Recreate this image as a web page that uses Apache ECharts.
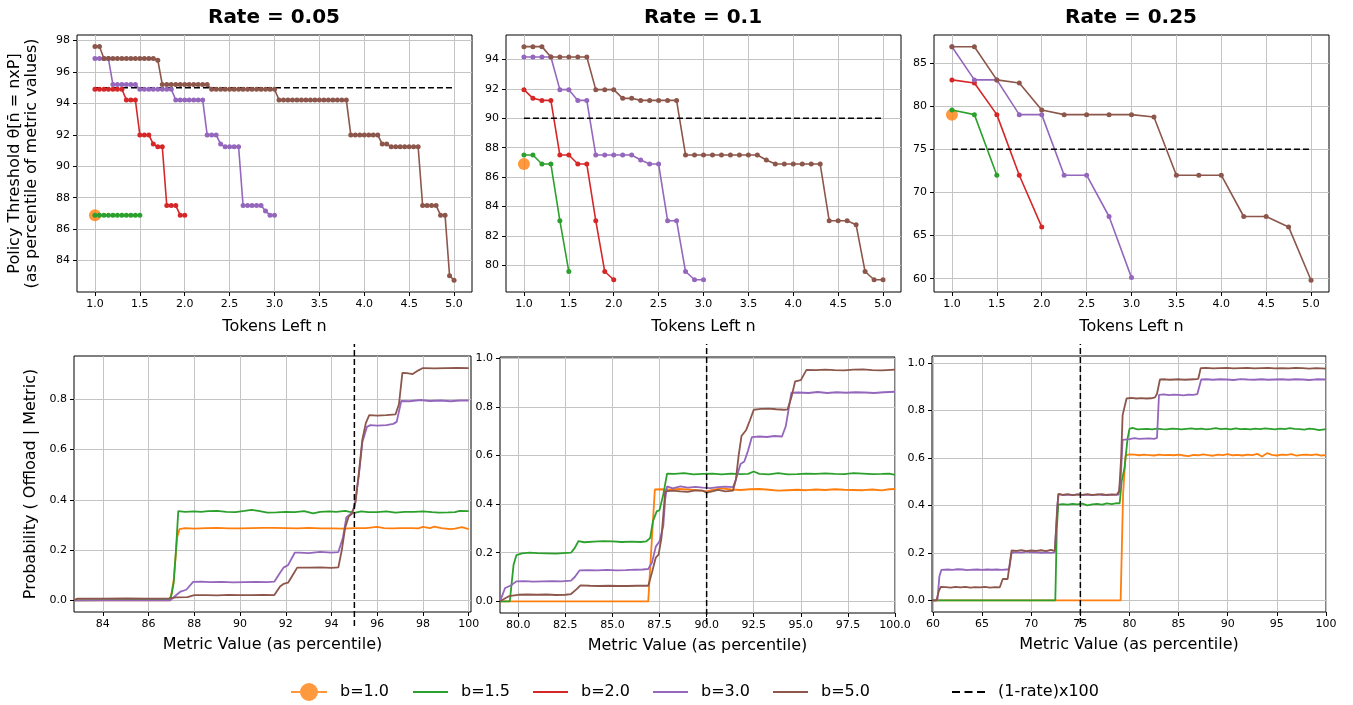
<!DOCTYPE html>
<html>

<head>
	<meta charset="UTF-8" />
	<title>Policy threshold and offload probability</title>
	<style>
		html, body { margin: 0; padding: 0; background: #fff; }
		#chart { width: 1353px; height: 705px; }
	</style>
	<script type="text/javascript" src="https://cdn.jsdelivr.net/npm/echarts@6/dist/echarts.min.js"></script>
</head>

<body>
	<div id="chart"></div>

	<script>
		// ---- data ----
		var rates = ["Rate = 0.05", "Rate = 0.1", "Rate = 0.25"];
		var thresholds = [95, 90, 75]; // (1-rate)x100

		var tokens005 = [
			1.0, 1.05, 1.1, 1.15, 1.2, 1.25, 1.3, 1.35, 1.4, 1.45,
			1.5, 1.55, 1.6, 1.65, 1.7, 1.75, 1.8, 1.85, 1.9, 1.95,
			2.0, 2.05, 2.1, 2.15, 2.2, 2.25, 2.3, 2.35, 2.4, 2.45,
			2.5, 2.55, 2.6, 2.65, 2.7, 2.75, 2.8, 2.85, 2.9, 2.95,
			3.0, 3.05, 3.1, 3.15, 3.2, 3.25, 3.3, 3.35, 3.4, 3.45,
			3.5, 3.55, 3.6, 3.65, 3.7, 3.75, 3.8, 3.85, 3.9, 3.95,
			4.0, 4.05, 4.1, 4.15, 4.2, 4.25, 4.3, 4.35, 4.4, 4.45,
			4.5, 4.55, 4.6, 4.65, 4.7, 4.75, 4.8, 4.85, 4.9, 4.95,
			5.0
		];
		var tokens01 = [
			1.0, 1.1, 1.2, 1.3, 1.4, 1.5, 1.6, 1.7, 1.8, 1.9,
			2.0, 2.1, 2.2, 2.3, 2.4, 2.5, 2.6, 2.7, 2.8, 2.9,
			3.0, 3.1, 3.2, 3.3, 3.4, 3.5, 3.6, 3.7, 3.8, 3.9,
			4.0, 4.1, 4.2, 4.3, 4.4, 4.5, 4.6, 4.7, 4.8, 4.9,
			5.0
		];
		var tokens025 = [1.0, 1.25, 1.5, 1.75, 2.0, 2.25, 2.5, 2.75, 3.0, 3.25, 3.5, 3.75, 4.0, 4.25, 4.5, 4.75, 5.0];

		// rate 0.05, threshold per token count
		var thr005_b10 = 86.89;
		var thr005_b15 = [86.89, 86.89, 86.89, 86.89, 86.89, 86.89, 86.89, 86.89, 86.89, 86.89, 86.89];
		var thr005_b20 = [
			94.9, 94.9, 94.9, 94.9, 94.9, 94.9, 94.9, 94.22, 94.22, 94.22,
			91.99, 91.99, 91.99, 91.41, 91.24, 91.24, 87.5, 87.5, 87.5, 86.89,
			86.89
		];
		var thr005_b30 = [
			96.85, 96.85, 96.85, 96.85, 95.2, 95.2, 95.2, 95.2, 95.2, 95.2,
			94.9, 94.9, 94.9, 94.9, 94.9, 94.9, 94.9, 94.9, 94.22, 94.22,
			94.22, 94.22, 94.22, 94.22, 94.22, 91.99, 91.99, 91.99, 91.41, 91.24,
			91.24, 91.24, 91.24, 87.5, 87.5, 87.5, 87.5, 87.5, 87.16, 86.89,
			86.89
		];
		var thr005_b50 = [
			97.62, 97.62, 96.85, 96.85, 96.85, 96.85, 96.85, 96.85, 96.85, 96.85,
			96.85, 96.85, 96.85, 96.85, 96.75, 95.2, 95.2, 95.2, 95.2, 95.2,
			95.2, 95.2, 95.2, 95.2, 95.2, 95.2, 94.9, 94.9, 94.9, 94.9,
			94.9, 94.9, 94.9, 94.9, 94.9, 94.9, 94.9, 94.9, 94.9, 94.9,
			94.9, 94.22, 94.22, 94.22, 94.22, 94.22, 94.22, 94.22, 94.22, 94.22,
			94.22, 94.22, 94.22, 94.22, 94.22, 94.22, 94.22, 91.99, 91.99, 91.99,
			91.99, 91.99, 91.99, 91.99, 91.41, 91.41, 91.24, 91.24, 91.24, 91.24,
			91.24, 91.24, 91.24, 87.5, 87.5, 87.5, 87.5, 86.89, 86.89, 83.04,
			82.75
		];

		// rate 0.1
		var thr01_b10 = 86.89;
		var thr01_b15 = [87.5, 87.5, 86.89, 86.89, 83.04, 79.59];
		var thr01_b20 = [91.94, 91.35, 91.21, 91.21, 87.5, 87.5, 86.89, 86.89, 83.04, 79.59, 79.03];
		var thr01_b30 = [
			94.16, 94.16, 94.16, 94.16, 91.94, 91.94, 91.21, 91.21, 87.5, 87.5,
			87.5, 87.5, 87.5, 87.16, 86.89, 86.89, 83.04, 83.04, 79.59, 79.03,
			79.03
		];
		var thr01_b50 = [
			94.86, 94.86, 94.86, 94.16, 94.16, 94.16, 94.16, 94.16, 91.94, 91.94,
			91.94, 91.35, 91.35, 91.21, 91.21, 91.21, 91.21, 91.21, 87.5, 87.5,
			87.5, 87.5, 87.5, 87.5, 87.5, 87.5, 87.5, 87.16, 86.89, 86.89,
			86.89, 86.89, 86.89, 86.89, 83.04, 83.04, 83.04, 82.76, 79.59, 79.03,
			79.03
		];

		// rate 0.25
		var thr025_b10 = 79.03;
		var thr025_b15 = [79.57, 79.03, 72.0];
		var thr025_b20 = [83.06, 82.71, 79.03, 72.0, 66.0];
		var thr025_b30 = [86.9, 83.06, 83.06, 79.03, 79.03, 72.0, 72.0, 67.21, 60.12];
		var thr025_b50 = [86.9, 86.9, 83.06, 82.71, 79.57, 79.03, 79.03, 79.03, 79.03, 78.76, 72.0, 72.0, 72.0, 67.21, 67.21, 66.0, 59.81];

		// probability of offload vs metric percentile, [metric, prob]
		var prob005_b10 = [[82.75, 0.0], [86.95, 0.0], [87.1, 0.08], [87.25, 0.25], [87.35, 0.283], [87.6, 0.287], [88.0, 0.285], [88.5, 0.287], [89.0, 0.288], [89.5, 0.286], [90.0, 0.286], [90.5, 0.287], [91.0, 0.288], [91.5, 0.288], [92.0, 0.287], [92.5, 0.286], [93.0, 0.288], [93.5, 0.286], [94.0, 0.286], [94.5, 0.285], [95.0, 0.287], [95.5, 0.287], [96.0, 0.292], [96.3, 0.287], [96.7, 0.286], [97.0, 0.287], [97.5, 0.287], [97.8, 0.286], [98.0, 0.292], [98.3, 0.287], [98.5, 0.293], [98.8, 0.287], [99.2, 0.283], [99.4, 0.285], [99.7, 0.291], [100, 0.283]];
		var prob005_b15 = [[82.75, 0.0], [86.9, 0.003], [87.0, 0.02], [87.1, 0.07], [87.2, 0.2], [87.3, 0.355], [87.6, 0.352], [88.0, 0.354], [88.3, 0.352], [88.6, 0.355], [89.0, 0.356], [89.4, 0.352], [89.8, 0.351], [90.2, 0.356], [90.5, 0.36], [90.8, 0.356], [91.2, 0.349], [91.6, 0.35], [92.0, 0.352], [92.4, 0.351], [92.8, 0.355], [93.2, 0.346], [93.5, 0.352], [93.9, 0.354], [94.2, 0.352], [94.6, 0.356], [95.0, 0.348], [95.3, 0.354], [95.6, 0.351], [96.0, 0.351], [96.4, 0.354], [96.8, 0.349], [97.2, 0.352], [97.6, 0.352], [98.0, 0.354], [98.4, 0.351], [98.7, 0.349], [99.1, 0.35], [99.4, 0.351], [99.6, 0.356], [100, 0.355]];
		var prob005_b30 = [[82.75, 0.0], [86.95, 0.0], [87.2, 0.02], [87.4, 0.035], [87.65, 0.042], [87.95, 0.073], [88.3, 0.074], [88.7, 0.072], [89.2, 0.073], [89.7, 0.071], [90.2, 0.072], [90.7, 0.073], [91.2, 0.072], [91.5, 0.074], [91.75, 0.11], [91.9, 0.13], [92.1, 0.14], [92.4, 0.19], [92.6, 0.19], [93.0, 0.188], [93.5, 0.193], [94.0, 0.19], [94.3, 0.192], [94.5, 0.25], [94.65, 0.33], [94.85, 0.345], [95.0, 0.37], [95.2, 0.5], [95.35, 0.63], [95.55, 0.69], [95.7, 0.697], [96.0, 0.695], [96.4, 0.697], [96.7, 0.702], [96.85, 0.71], [97.05, 0.793], [97.4, 0.792], [97.9, 0.797], [98.3, 0.793], [98.8, 0.795], [99.2, 0.792], [99.6, 0.795], [100, 0.795]];
		var prob005_b50 = [[82.75, 0.002], [82.9, 0.007], [84.0, 0.007], [85.0, 0.008], [86.0, 0.007], [86.9, 0.008], [87.2, 0.012], [87.7, 0.013], [88.0, 0.021], [88.5, 0.021], [89.0, 0.02], [89.5, 0.022], [90.0, 0.021], [90.5, 0.021], [91.0, 0.022], [91.5, 0.021], [91.75, 0.055], [91.9, 0.065], [92.1, 0.07], [92.3, 0.1], [92.5, 0.13], [93.0, 0.13], [93.5, 0.131], [94.0, 0.129], [94.3, 0.131], [94.45, 0.2], [94.6, 0.29], [94.75, 0.333], [94.9, 0.345], [95.05, 0.39], [95.2, 0.51], [95.35, 0.64], [95.5, 0.705], [95.65, 0.737], [96.0, 0.735], [96.4, 0.737], [96.8, 0.74], [96.95, 0.78], [97.1, 0.905], [97.3, 0.904], [97.55, 0.9], [97.8, 0.915], [98.0, 0.924], [98.5, 0.923], [99.0, 0.924], [99.5, 0.925], [100, 0.924]];

		var prob01_b10 = [[79.03, 0.0], [86.9, 0.0], [87.05, 0.2], [87.25, 0.46], [87.6, 0.461], [88.0, 0.459], [88.5, 0.462], [89.0, 0.46], [89.5, 0.457], [90.0, 0.452], [90.3, 0.458], [90.8, 0.465], [91.3, 0.46], [91.8, 0.458], [92.3, 0.461], [92.8, 0.462], [93.3, 0.459], [93.8, 0.455], [94.3, 0.457], [94.8, 0.459], [95.3, 0.457], [95.8, 0.46], [96.3, 0.458], [96.8, 0.461], [97.3, 0.459], [97.8, 0.458], [98.3, 0.457], [98.8, 0.46], [99.3, 0.456], [99.7, 0.461], [100, 0.462]];
		var prob01_b15 = [[79.03, 0.0], [79.55, 0.0], [79.75, 0.15], [79.9, 0.19], [80.2, 0.197], [80.6, 0.2], [81.0, 0.198], [81.5, 0.197], [82.0, 0.196], [82.4, 0.198], [82.8, 0.2], [83.0, 0.22], [83.2, 0.248], [83.5, 0.243], [84.0, 0.246], [84.5, 0.248], [85.0, 0.247], [85.5, 0.244], [86.0, 0.246], [86.5, 0.244], [86.8, 0.247], [87.0, 0.26], [87.15, 0.33], [87.35, 0.37], [87.5, 0.375], [87.7, 0.44], [87.9, 0.525], [88.3, 0.524], [88.8, 0.527], [89.3, 0.522], [89.8, 0.524], [90.3, 0.525], [90.8, 0.522], [91.3, 0.525], [91.8, 0.523], [92.2, 0.524], [92.5, 0.534], [92.8, 0.524], [93.3, 0.522], [93.8, 0.527], [94.3, 0.522], [94.8, 0.523], [95.3, 0.525], [95.8, 0.524], [96.3, 0.526], [96.8, 0.524], [97.3, 0.523], [97.8, 0.527], [98.3, 0.525], [98.8, 0.523], [99.3, 0.524], [99.7, 0.525], [100, 0.52]];
		var prob01_b30 = [[79.03, 0.0], [79.3, 0.055], [79.6, 0.065], [79.9, 0.082], [80.3, 0.083], [80.8, 0.081], [81.3, 0.082], [81.8, 0.083], [82.3, 0.082], [82.8, 0.085], [83.0, 0.1], [83.25, 0.127], [83.7, 0.128], [84.2, 0.127], [84.7, 0.129], [85.2, 0.127], [85.7, 0.128], [86.2, 0.13], [86.6, 0.131], [86.9, 0.133], [87.1, 0.16], [87.3, 0.225], [87.5, 0.247], [87.7, 0.31], [87.8, 0.42], [87.9, 0.473], [88.2, 0.465], [88.6, 0.473], [89.0, 0.468], [89.4, 0.471], [89.8, 0.468], [90.2, 0.466], [90.6, 0.47], [91.0, 0.472], [91.4, 0.47], [91.55, 0.5], [91.8, 0.565], [92.0, 0.575], [92.2, 0.62], [92.4, 0.675], [92.8, 0.678], [93.2, 0.676], [93.6, 0.68], [94.0, 0.678], [94.2, 0.72], [94.5, 0.858], [94.9, 0.859], [95.4, 0.857], [95.9, 0.861], [96.4, 0.857], [96.9, 0.86], [97.4, 0.858], [97.9, 0.86], [98.4, 0.859], [98.9, 0.857], [99.4, 0.86], [100, 0.862]];
		var prob01_b50 = [[79.03, 0.0], [79.5, 0.021], [80.0, 0.027], [80.5, 0.028], [81.0, 0.027], [81.5, 0.028], [82.0, 0.026], [82.5, 0.027], [82.8, 0.03], [83.1, 0.05], [83.3, 0.066], [83.8, 0.064], [84.3, 0.063], [84.8, 0.064], [85.3, 0.063], [85.8, 0.063], [86.3, 0.064], [86.9, 0.064], [87.1, 0.12], [87.3, 0.18], [87.45, 0.192], [87.6, 0.26], [87.8, 0.452], [88.2, 0.455], [88.6, 0.452], [89.0, 0.45], [89.4, 0.456], [89.8, 0.455], [90.0, 0.447], [90.3, 0.452], [90.6, 0.458], [91.0, 0.452], [91.4, 0.455], [91.55, 0.5], [91.7, 0.6], [91.85, 0.68], [92.1, 0.705], [92.3, 0.745], [92.5, 0.788], [92.9, 0.792], [93.3, 0.793], [93.7, 0.79], [94.1, 0.788], [94.3, 0.79], [94.5, 0.84], [94.7, 0.905], [95.0, 0.91], [95.3, 0.952], [95.8, 0.951], [96.3, 0.953], [96.8, 0.951], [97.3, 0.95], [97.8, 0.953], [98.3, 0.954], [98.8, 0.951], [99.3, 0.95], [100, 0.953]];

		var prob025_b10 = [[59.9, 0.0], [79.1, 0.0], [79.35, 0.45], [79.6, 0.61], [80.0, 0.615], [80.5, 0.614], [81.0, 0.611], [81.5, 0.614], [82.0, 0.612], [82.5, 0.61], [83.0, 0.614], [83.5, 0.612], [84.0, 0.613], [84.5, 0.611], [85.0, 0.614], [85.5, 0.61], [86.0, 0.607], [86.5, 0.613], [87.0, 0.611], [87.5, 0.615], [88.0, 0.612], [88.5, 0.609], [89.0, 0.614], [89.5, 0.612], [90.0, 0.616], [90.5, 0.611], [91.0, 0.613], [91.5, 0.61], [92.0, 0.614], [92.5, 0.612], [93.0, 0.617], [93.5, 0.606], [94.0, 0.62], [94.5, 0.613], [95.0, 0.61], [95.5, 0.614], [96.0, 0.613], [96.5, 0.616], [97.0, 0.609], [97.5, 0.613], [98.0, 0.614], [98.5, 0.612], [99.0, 0.615], [99.5, 0.61], [100, 0.612]];
		var prob025_b15 = [[59.9, 0.0], [72.45, 0.0], [72.6, 0.3], [72.75, 0.403], [73.2, 0.405], [73.7, 0.403], [74.2, 0.406], [74.7, 0.404], [75.2, 0.407], [75.7, 0.4], [76.2, 0.404], [76.7, 0.406], [77.2, 0.403], [77.7, 0.408], [78.2, 0.405], [78.7, 0.409], [79.0, 0.408], [79.2, 0.5], [79.5, 0.56], [79.8, 0.68], [80.0, 0.722], [80.3, 0.726], [80.8, 0.72], [81.3, 0.721], [81.8, 0.722], [82.3, 0.72], [82.8, 0.723], [83.3, 0.721], [83.8, 0.72], [84.3, 0.723], [84.8, 0.722], [85.3, 0.72], [85.8, 0.722], [86.3, 0.724], [86.8, 0.721], [87.3, 0.723], [87.8, 0.72], [88.3, 0.722], [88.8, 0.725], [89.3, 0.721], [89.8, 0.723], [90.3, 0.72], [90.8, 0.724], [91.3, 0.721], [91.8, 0.722], [92.3, 0.72], [92.8, 0.723], [93.3, 0.721], [93.8, 0.724], [94.3, 0.722], [94.8, 0.72], [95.3, 0.723], [95.8, 0.721], [96.3, 0.725], [96.8, 0.722], [97.3, 0.721], [97.8, 0.719], [98.3, 0.723], [98.8, 0.721], [99.3, 0.717], [100, 0.721]];
		var prob025_b30 = [[59.9, 0.0], [60.45, 0.0], [60.65, 0.1], [60.85, 0.128], [61.5, 0.13], [62.0, 0.128], [62.5, 0.131], [63.0, 0.13], [63.5, 0.127], [64.0, 0.129], [64.5, 0.13], [65.0, 0.128], [65.5, 0.13], [66.0, 0.129], [66.5, 0.13], [67.0, 0.128], [67.5, 0.13], [67.75, 0.13], [68.0, 0.2], [68.5, 0.203], [69.0, 0.201], [69.5, 0.205], [70.0, 0.202], [70.5, 0.203], [71.0, 0.2], [71.5, 0.202], [72.0, 0.2], [72.4, 0.203], [72.65, 0.4], [72.8, 0.447], [73.3, 0.443], [73.8, 0.445], [74.3, 0.443], [74.8, 0.446], [75.3, 0.443], [75.8, 0.445], [76.3, 0.444], [76.8, 0.446], [77.3, 0.443], [77.8, 0.445], [78.3, 0.444], [78.9, 0.445], [79.1, 0.51], [79.3, 0.676], [79.5, 0.68], [80.0, 0.679], [80.5, 0.683], [81.0, 0.68], [81.5, 0.681], [82.0, 0.682], [82.5, 0.68], [82.8, 0.684], [83.0, 0.865], [83.5, 0.867], [84.0, 0.864], [84.5, 0.866], [85.0, 0.865], [85.5, 0.863], [86.0, 0.866], [86.5, 0.865], [86.9, 0.868], [87.3, 0.93], [87.8, 0.931], [88.5, 0.929], [89.2, 0.931], [89.9, 0.93], [90.6, 0.928], [91.3, 0.932], [92.0, 0.93], [92.7, 0.929], [93.4, 0.931], [94.1, 0.929], [94.8, 0.93], [95.5, 0.931], [96.2, 0.929], [96.9, 0.931], [97.6, 0.93], [98.3, 0.928], [99.0, 0.931], [100, 0.93]];
		var prob025_b50 = [[59.9, 0.0], [60.35, 0.0], [60.6, 0.04], [60.8, 0.057], [61.3, 0.056], [61.8, 0.054], [62.3, 0.057], [62.8, 0.055], [63.3, 0.057], [63.8, 0.054], [64.3, 0.056], [64.8, 0.055], [65.3, 0.057], [65.8, 0.054], [66.3, 0.056], [66.8, 0.055], [67.1, 0.09], [67.6, 0.09], [67.75, 0.087], [68.0, 0.21], [68.5, 0.208], [69.0, 0.212], [69.5, 0.207], [70.0, 0.21], [70.5, 0.208], [71.0, 0.211], [71.5, 0.207], [72.0, 0.213], [72.4, 0.208], [72.75, 0.448], [73.2, 0.444], [73.7, 0.447], [74.2, 0.443], [74.7, 0.446], [75.2, 0.444], [75.7, 0.447], [76.2, 0.443], [76.7, 0.445], [77.2, 0.447], [77.7, 0.443], [78.2, 0.446], [78.7, 0.445], [78.95, 0.46], [79.15, 0.6], [79.3, 0.78], [79.7, 0.85], [80.2, 0.853], [80.7, 0.85], [81.2, 0.852], [81.7, 0.85], [82.2, 0.851], [82.6, 0.855], [82.8, 0.87], [83.1, 0.93], [83.6, 0.931], [84.1, 0.929], [84.6, 0.93], [85.1, 0.931], [85.6, 0.929], [86.1, 0.93], [86.6, 0.931], [87.0, 0.933], [87.25, 0.978], [87.8, 0.979], [88.5, 0.977], [89.2, 0.978], [89.9, 0.979], [90.6, 0.977], [91.3, 0.978], [92.0, 0.979], [92.7, 0.977], [93.4, 0.978], [94.1, 0.979], [94.8, 0.977], [95.5, 0.978], [96.2, 0.977], [96.9, 0.979], [97.6, 0.978], [98.3, 0.976], [99.0, 0.978], [100, 0.976]];

		// tick labels
		var tokenTicks = [1.0, 1.5, 2.0, 2.5, 3.0, 3.5, 4.0, 4.5, 5.0];
		var thrTicks005 = [84, 86, 88, 90, 92, 94, 96, 98];
		var thrTicks01 = [80, 82, 84, 86, 88, 90, 92, 94];
		var thrTicks025 = [60, 65, 70, 75, 80, 85];
		var metricTicks005 = [84, 86, 88, 90, 92, 94, 96, 98, 100];
		var metricTicks01 = [80, 82.5, 85, 87.5, 90, 92.5, 95, 97.5, 100];
		var metricTicks025 = [60, 65, 70, 75, 80, 85, 90, 95, 100];
		var probTicks08 = [0, 0.2, 0.4, 0.6, 0.8];
		var probTicks10 = [0, 0.2, 0.4, 0.6, 0.8, 1.0];

		// ---- styling ----
		var FONT = "DejaVu Sans";
		var COLORS = {
			"b=1.0": "#ff7f0e",
			"b=1.5": "#2ca02c",
			"b=2.0": "#d62728",
			"b=3.0": "#9467bd",
			"b=5.0": "#8c564b",
			"(1-rate)x100": "#000000",
		};

		var myChart = echarts.init(document.getElementById("chart"), null, { renderer: "canvas" });

		// grid boxes: 3 top panels, 3 bottom panels, then 3 taller overlay boxes for the vertical dashed lines
		var boxes = [
			{ left: 77, top: 35, width: 395, height: 257 },
			{ left: 506, top: 35, width: 395, height: 257 },
			{ left: 934, top: 35, width: 395, height: 257 },
			{ left: 74, top: 356, width: 397, height: 256 },
			{ left: 500, top: 357, width: 395, height: 256 },
			{ left: 932, top: 356, width: 394, height: 256 },
			{ left: 74, top: 344, width: 397, height: 282 },
			{ left: 500, top: 344, width: 395, height: 280 },
			{ left: 932, top: 344, width: 394, height: 280 },
		];

		function makeGrid(b, i) {
			return {
				left: b.left, top: b.top, width: b.width, height: b.height,
				show: i < 6,
				borderColor: "#000",
				borderWidth: 1,
				backgroundColor: "transparent",
				containLabel: false,
			};
		}

		function valueAxis(gridIndex, min, max, ticks, digits, extra) {
			var ax = {
				type: "value",
				gridIndex: gridIndex,
				min: min,
				max: max,
				axisLine: { show: false, onZero: false },
				axisTick: { show: true, inside: false, length: 4, customValues: ticks, lineStyle: { color: "#000", width: 1 } },
				axisLabel: {
					customValues: ticks,
					margin: 7,
					fontSize: 11,
					color: "#000",
					fontFamily: FONT,
					formatter: function (v) {
						return Number(v).toFixed(digits);
					},
				},
				splitLine: { show: true, lineStyle: { color: "#c4c4c4", width: 1 } },
				nameTextStyle: { fontSize: 16, color: "#000", fontFamily: FONT },
			};
			for (var k in extra) ax[k] = extra[k];
			return ax;
		}

		function hiddenAxis(gridIndex, min, max) {
			return { type: "value", gridIndex: gridIndex, min: min, max: max, show: false };
		}

		function zip(xs, ys) {
			var out = [];
			for (var i = 0; i < ys.length; i++) out.push([xs[i], ys[i]]);
			return out;
		}

		var xName = { name: "Tokens Left n", nameLocation: "middle", nameGap: 27 };
		var mName = { name: "Metric Value (as percentile)", nameLocation: "middle", nameGap: 25 };

		var xAxes = [
			valueAxis(0, 0.8, 5.2, tokenTicks, 1, xName),
			valueAxis(1, 0.8, 5.2, tokenTicks, 1, xName),
			valueAxis(2, 0.8, 5.2, tokenTicks, 1, xName),
			valueAxis(3, 82.74, 100.1, metricTicks005, 0, mName),
			valueAxis(4, 79.03, 100, metricTicks01, 1, mName),
			valueAxis(5, 59.9, 100, metricTicks025, 0, mName),
			hiddenAxis(6, 82.74, 100.1),
			hiddenAxis(7, 79.03, 100),
			hiddenAxis(8, 59.9, 100),
		];

		var yAxes = [
			valueAxis(0, 82.0, 98.35, thrTicks005, 0, {
				name: "Policy Threshold θ[n\u0304 = nxP]\n(as percentile of metric values)",
				nameLocation: "middle",
				nameRotate: 90,
				nameGap: 37,
				nameTextStyle: { fontSize: 16, lineHeight: 17, color: "#000", fontFamily: FONT, align: "center" },
			}),
			valueAxis(1, 78.2, 95.65, thrTicks01, 0, {}),
			valueAxis(2, 58.45, 88.27, thrTicks025, 0, {}),
			valueAxis(3, -0.0465, 0.972, probTicks08, 1, {
				name: "Probability ( Offload | Metric)",
				nameLocation: "middle",
				nameRotate: 90,
				nameGap: 35,
			}),
			valueAxis(4, -0.048, 1.005, probTicks10, 1, {}),
			valueAxis(5, -0.049, 1.029, probTicks10, 1, {}),
			hiddenAxis(6, 0, 1),
			hiddenAxis(7, 0, 1),
			hiddenAxis(8, 0, 1),
		];

		var series = [];

		// top row: thresholds per remaining tokens
		function addThresholdPanel(idx, tokens, b10, b15, b20, b30, b50, thr) {
			series.push({
				name: "b=1.0", type: "scatter", xAxisIndex: idx, yAxisIndex: idx,
				data: [[tokens[0], b10]], symbolSize: 12,
				itemStyle: { color: COLORS["b=1.0"] },
			});
			var lines = [["b=1.5", b15], ["b=2.0", b20], ["b=3.0", b30], ["b=5.0", b50]];
			lines.forEach(function (l) {
				series.push({
					name: l[0], type: "line", xAxisIndex: idx, yAxisIndex: idx,
					data: zip(tokens, l[1]),
					symbol: "circle", symbolSize: 5, showSymbol: true,
					lineStyle: { width: 1.6, color: COLORS[l[0]] },
					itemStyle: { color: COLORS[l[0]] },
				});
			});
			series.push({
				name: "(1-rate)x100", type: "line", xAxisIndex: idx, yAxisIndex: idx,
				data: [[tokens[0], thr], [tokens[tokens.length - 1], thr]],
				symbol: "none",
				lineStyle: { width: 1.5, color: "#000", type: [6, 3] },
				itemStyle: { color: "#000" },
			});
		}

		addThresholdPanel(0, tokens005, thr005_b10, thr005_b15, thr005_b20, thr005_b30, thr005_b50, thresholds[0]);
		addThresholdPanel(1, tokens01, thr01_b10, thr01_b15, thr01_b20, thr01_b30, thr01_b50, thresholds[1]);
		addThresholdPanel(2, tokens025, thr025_b10, thr025_b15, thr025_b20, thr025_b30, thr025_b50, thresholds[2]);

		// bottom row: offload probability curves
		function addProbPanel(idx, overlayIdx, p10, p15, p30, p50, thr) {
			[["b=1.0", p10], ["b=1.5", p15], ["b=3.0", p30], ["b=5.0", p50]].forEach(function (l) {
				series.push({
					name: l[0], type: "line", xAxisIndex: idx, yAxisIndex: idx,
					data: l[1], symbol: "none",
					lineStyle: { width: 1.8, color: COLORS[l[0]] },
					itemStyle: { color: COLORS[l[0]] },
				});
			});
			series.push({
				name: "(1-rate)x100", type: "line", xAxisIndex: overlayIdx, yAxisIndex: overlayIdx,
				data: [[thr, 0], [thr, 1]], symbol: "none",
				lineStyle: { width: 1.5, color: "#000", type: [6, 3] },
				itemStyle: { color: "#000" },
			});
		}

		addProbPanel(3, 6, prob005_b10, prob005_b15, prob005_b30, prob005_b50, thresholds[0]);
		addProbPanel(4, 7, prob01_b10, prob01_b15, prob01_b30, prob01_b50, thresholds[1]);
		addProbPanel(5, 8, prob025_b10, prob025_b15, prob025_b30, prob025_b50, thresholds[2]);

		// legend: one component per entry so every icon can have its own size
		function legendItem(name, left, top, w, h, icon) {
			return {
				left: left, top: top, padding: 0, selectedMode: false,
				itemWidth: w, itemHeight: h,
				itemStyle: { borderWidth: 0 },
				lineStyle: { width: 0 },
				textStyle: { fontSize: 16, color: "#000", fontFamily: FONT, padding: [0, 0, 0, 8] },
				data: [{ name: name, icon: icon }],
			};
		}

		var legends = [
			legendItem("b=1.0", 291, 683, 36, 18, "path://M0,8 L36,8 L36,10 L0,10 Z M27,9 A9,9 0 1 1 9,9 A9,9 0 1 1 27,9 Z"),
			legendItem("b=1.5", 413, 684, 35, 2, "rect"),
			legendItem("b=2.0", 533, 684, 35, 2, "rect"),
			legendItem("b=3.0", 653, 684, 35, 2, "rect"),
			legendItem("b=5.0", 773, 684, 35, 2, "rect"),
			legendItem("(1-rate)x100", 952, 684, 33, 2, "path://M0,0 h8 v2 h-8 Z M12.5,0 h8 v2 h-8 Z M25,0 h8 v2 h-8 Z"),
		];

		var centers = [274, 703, 1131];
		var titles = rates.map(function (t, i) {
			return {
				text: t, left: centers[i], top: 8, textAlign: "center", padding: 0,
				textStyle: { fontSize: 20, fontWeight: "bold", color: "#000", fontFamily: FONT },
			};
		});

		var option = {
			animation: false,
			backgroundColor: "#ffffff",
			textStyle: { fontFamily: FONT },
			title: titles,
			legend: legends,
			grid: boxes.map(makeGrid),
			xAxis: xAxes,
			yAxis: yAxes,
			series: series,
		};

		myChart.setOption(option);
	</script>
</body>

</html>
